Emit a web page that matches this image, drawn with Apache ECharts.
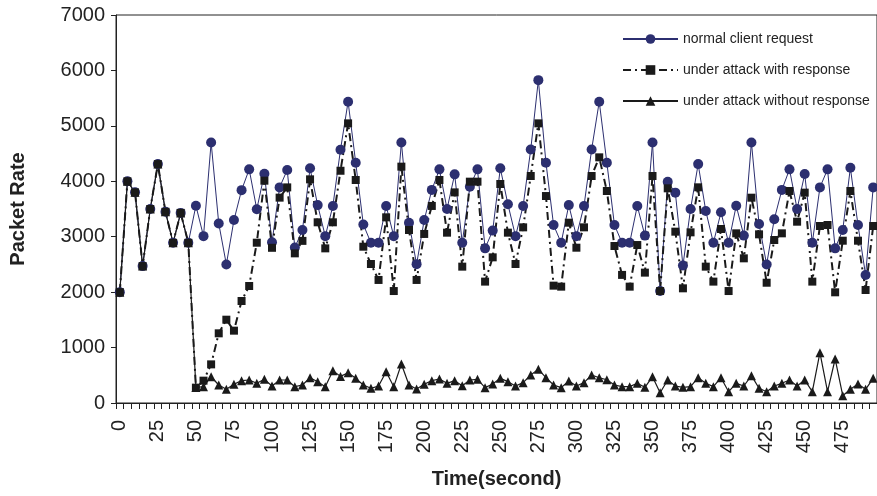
<!DOCTYPE html>
<html>
<head>
<meta charset="utf-8">
<script src="https://cdn.jsdelivr.net/npm/echarts@6/dist/echarts.min.js"></script>
<style>
  html, body { margin: 0; padding: 0; background: #fff; }
  #chart { width: 877px; height: 496px; }
</style>
</head>
<body>
<div id="chart"></div>
<script>
var timeLabels = ['0','5','10','15','20','25','30','35','40','45','50','55','60','65','70','75','80','85','90','95',
  '100','105','110','115','120','125','130','135','140','145','150','155','160','165','170','175','180','185','190','195',
  '200','205','210','215','220','225','230','235','240','245','250','255','260','265','270','275','280','285','290','295',
  '300','305','310','315','320','325','330','335','340','345','350','355','360','365','370','375','380','385','390','395',
  '400','405','410','415','420','425','430','435','440','445','450','455','460','465','470','475','480','485','490','495'];

var normalRequest = [2000,4000,3800,2470,3500,4310,3450,2890,3430,2890,
  3560,3010,4700,3240,2500,3300,3840,4215,3495,4135,
  2900,3890,4205,2805,3120,4235,3570,3010,3555,4570,
  5436,4336,3220,2890,2890,3555,3010,4700,3250,2505,
  3300,3845,4215,3500,4125,2890,3900,4215,2790,3110,
  4235,3585,3010,3555,4575,5825,4335,3210,2890,3570,
  3010,3555,4575,5436,4336,3210,2890,2890,3555,3020,
  4700,2020,3990,3795,2480,3500,4310,3465,2890,3440,
  2890,3560,3020,4700,3230,2500,3315,3845,4215,3500,
  4130,2890,3890,4215,2790,3120,4245,3210,2310,3890];

var withResponse = [2000,4000,3800,2470,3500,4310,3450,2890,3430,2890,
  277,403,697,1257,1503,1305,1840,2111,2892,4011,
  2800,3705,3890,2700,2925,4035,3260,2790,3260,4190,
  5045,4023,2820,2508,2220,3350,2020,4264,3121,2220,
  3050,3555,4023,3073,3800,2460,3993,3993,2190,2628,
  3951,3073,2508,3169,4095,5045,3734,2117,2099,3253,
  2802,3169,4095,4432,3825,2832,2311,2099,2850,2352,
  4095,2020,3873,3091,2069,3079,3891,2460,2190,3139,
  2020,3061,2610,3704,3043,2170,2941,3061,3825,3271,
  3795,2190,3193,3211,1997,2928,3825,2928,2039,3193];

var withoutResponse = [2000,4000,3800,2470,3500,4310,3450,2890,3430,2890,
  280,294,474,325,247,337,403,415,355,427,
  307,415,415,294,325,457,385,294,583,480,
  547,445,325,265,307,565,295,704,325,253,
  337,403,433,355,403,313,415,427,277,343,
  445,385,307,367,505,607,457,325,277,397,
  307,367,505,455,420,325,295,295,355,283,
  475,186,415,307,283,295,457,355,295,457,
  204,355,307,493,265,204,307,355,415,307,
  415,204,908,204,794,132,247,343,247,445];

var yTicks = [0, 1000, 2000, 3000, 4000, 5000, 6000, 7000];

var font = 'Liberation Sans, Arial, sans-serif';
var navy = '#2c2f70';

var chart = echarts.init(document.getElementById('chart'));
chart.setOption({
    animation: false,
    backgroundColor: '#fff',
    grid: {
        left: 114,
        top: 15,
        right: -1,
        bottom: 93,
        show: true,
        borderColor: '#222',
        borderWidth: 1
    },
    legend: {
        orient: 'vertical',
        left: 617,
        top: 27,
        itemWidth: 55,
        itemHeight: 12,
        itemGap: 17,
        textStyle: { fontFamily: font, fontSize: 14, color: '#222' },
        data: ['normal client request', 'under attack with response', 'under attack without response']
    },
    xAxis: {
        type: 'category',
        data: timeLabels,
        boundaryGap: true,
        name: 'Time(second)',
        nameLocation: 'middle',
        nameGap: 66,
        nameTextStyle: { fontFamily: font, fontSize: 20, fontWeight: 'bold', color: '#222' },
        axisLine: { lineStyle: { color: '#222', width: 1 } },
        axisTick: { show: true, interval: 0, length: 6, lineStyle: { color: '#222' } },
        axisLabel: {
            interval: 4,
            rotate: 90,
            margin: 17,
            fontFamily: font,
            fontSize: 20,
            color: '#222'
        },
        splitLine: { show: false }
    },
    yAxis: {
        type: 'value',
        min: yTicks[0],
        max: yTicks[yTicks.length - 1],
        interval: 1000,
        name: 'Packet Rate',
        nameLocation: 'middle',
        nameRotate: 90,
        nameGap: 88,
        nameTextStyle: { fontFamily: font, fontSize: 20, fontWeight: 'bold', color: '#222' },
        axisLine: { show: true, lineStyle: { color: '#222', width: 1 } },
        axisTick: { show: true, length: 5, lineStyle: { color: '#222' } },
        axisLabel: {
            margin: 11,
            fontFamily: font,
            fontSize: 20,
            color: '#222',
            formatter: function (v) { return String(v); }
        },
        splitLine: { show: false }
    },
    series: [
        {
            name: 'normal client request',
            type: 'line',
            data: normalRequest,
            symbol: 'circle',
            symbolSize: 10,
            showAllSymbol: true,
            color: navy,
            itemStyle: { color: navy },
            lineStyle: { color: navy, width: 1 }
        },
        {
            name: 'under attack with response',
            type: 'line',
            data: withResponse,
            symbol: 'rect',
            symbolSize: 8,
            showAllSymbol: true,
            color: '#1a1a1a',
            itemStyle: { color: '#1a1a1a' },
            lineStyle: { color: '#1a1a1a', width: 2, type: [8, 4, 2, 4] }
        },
        {
            name: 'under attack without response',
            type: 'line',
            data: withoutResponse,
            symbol: 'triangle',
            symbolSize: 9,
            showAllSymbol: true,
            color: '#1a1a1a',
            itemStyle: { color: '#1a1a1a' },
            lineStyle: { color: '#1a1a1a', width: 1.2 }
        }
    ]
});
</script>
</body>
</html>
